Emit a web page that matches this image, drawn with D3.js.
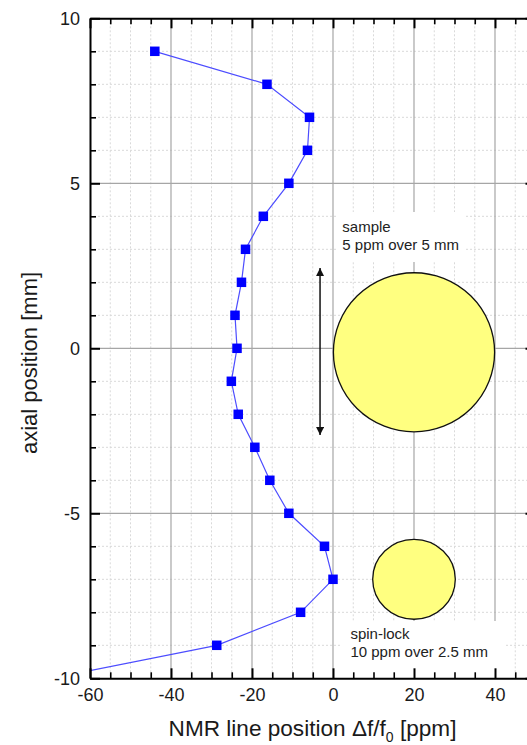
<!DOCTYPE html>
<html>
<head>
<meta charset="utf-8">
<script src="https://cdn.jsdelivr.net/npm/d3@7"></script>
<style>
  html, body { margin: 0; padding: 0; background: #fff; }
  svg { display: block; font-family: "Liberation Sans", Arial, sans-serif; }
</style>
</head>
<body>
<svg id="chart" width="527" height="745"></svg>
<script>
// Axial profile of the NMR line position
const axialPosition = [9, 8, 7, 6, 5, 4, 3, 2, 1, 0, -1, -2, -3, -4, -5, -6, -7, -8, -9, -10];
const linePosition  = [-44.0, -16.3, -5.8, -6.3, -10.9, -17.2, -21.6, -22.6, -24.2, -23.7,
                       -25.1, -23.4, -19.3, -15.6, -10.9, -2.1, 0.0, -8.0, -28.7, -69.5];

const xMajorTicks = [-60, -40, -20, 0, 20, 40];
const yMajorTicks = [-10, -5, 0, 5, 10];

// Illustrative sample / spin-lock volumes (centre in ppm, mm; radii in ppm, mm)
const volumes = [
  { name: "sample",    cx: 20, cy: -0.12, rx: 19.9, ry: 2.41 },
  { name: "spin-lock", cx: 20, cy: -7.0,  rx: 10.2, ry: 1.21 }
];
const sampleArrow = { x: -3.2, top: 2.43, bottom: -2.63 };
const notes = [
  { x: 2.3, y: 3.53, lines: ["sample", "5 ppm over 5 mm"] },
  { x: 4.3, y: -8.80, lines: ["spin-lock", "10 ppm over 2.5 mm"] }
];

const svg = d3.select("#chart");
const x = d3.scaleLinear().domain([-60, 50]).range([90, 535.5]);
const y = d3.scaleLinear().domain([-10, 10]).range([678.3, 18.3]);
const [x0, x1] = x.range();
const [yb, yt] = y.range();

svg.append("defs").append("clipPath").attr("id", "plotClip")
  .append("rect").attr("x", x0).attr("y", yt).attr("width", x1 - x0).attr("height", yb - yt);

// --- grid ---
const grid = svg.append("g");
const xMinor = d3.range(-55, 50, 5).filter(v => !xMajorTicks.includes(v));
const yMinor = d3.range(-9, 10, 1).filter(v => v % 5 !== 0);
grid.selectAll(".vmin").data(xMinor).join("line")
  .attr("x1", d => x(d)).attr("x2", d => x(d)).attr("y1", yt).attr("y2", yb)
  .attr("stroke", "#d9d9d9").attr("stroke-width", 1).attr("stroke-dasharray", "2,2");
grid.selectAll(".hmin").data(yMinor).join("line")
  .attr("x1", x0).attr("x2", x1).attr("y1", d => y(d)).attr("y2", d => y(d))
  .attr("stroke", "#d9d9d9").attr("stroke-width", 1).attr("stroke-dasharray", "2,2");
grid.selectAll(".vmaj").data(xMajorTicks.filter(v => v > -60)).join("line")
  .attr("x1", d => x(d)).attr("x2", d => x(d)).attr("y1", yt).attr("y2", yb)
  .attr("stroke", "#a6a6a6").attr("stroke-width", 1.2);
grid.selectAll(".hmaj").data(yMajorTicks.filter(v => v > -10 && v < 10)).join("line")
  .attr("x1", x0).attr("x2", x1).attr("y1", d => y(d)).attr("y2", d => y(d))
  .attr("stroke", "#a6a6a6").attr("stroke-width", 1.2);

// --- annotation backgrounds, volumes, arrow, text ---
const ann = svg.append("g");
ann.append("rect").attr("x", 336).attr("y", 212).attr("width", 130).attr("height", 50).attr("fill", "#fff");
ann.append("rect").attr("x", 342).attr("y", 621).attr("width", 163).attr("height", yb - 621).attr("fill", "#fff");

ann.selectAll("ellipse").data(volumes).join("ellipse")
  .attr("cx", d => x(d.cx)).attr("cy", d => y(d.cy))
  .attr("rx", d => x(d.cx + d.rx) - x(d.cx)).attr("ry", d => y(d.cy - d.ry) - y(d.cy))
  .attr("fill", "#ffff80").attr("stroke", "#111").attr("stroke-width", 1.3);

svg.select("defs").append("marker").attr("id", "head")
  .attr("viewBox", "0 0 10 10").attr("refX", 10).attr("refY", 5)
  .attr("markerWidth", 12).attr("markerHeight", 8).attr("markerUnits", "userSpaceOnUse")
  .attr("orient", "auto-start-reverse")
  .append("path").attr("d", "M0,0 L10,5 L0,10 Z").attr("fill", "#111");
ann.append("line")
  .attr("x1", x(sampleArrow.x)).attr("x2", x(sampleArrow.x))
  .attr("y1", y(sampleArrow.top)).attr("y2", y(sampleArrow.bottom))
  .attr("stroke", "#111").attr("stroke-width", 1.5)
  .attr("marker-start", "url(#head)").attr("marker-end", "url(#head)");

notes.forEach(n => {
  const t = ann.append("text").attr("x", x(n.x)).attr("y", y(n.y))
    .attr("font-size", 15).attr("fill", "#222");
  n.lines.forEach((s, i) => t.append("tspan").attr("x", x(n.x)).attr("dy", i ? 18.5 : 0).text(s));
});

// --- data ---
const pts = axialPosition.map((a, i) => ({ a, f: linePosition[i] }));
const dataG = svg.append("g").attr("clip-path", "url(#plotClip)");
dataG.append("path").datum(pts)
  .attr("d", d3.line().x(d => x(d.f)).y(d => y(d.a)))
  .attr("fill", "none").attr("stroke", "#4d4dff").attr("stroke-width", 1.2);
dataG.selectAll("rect").data(pts).join("rect")
  .attr("x", d => x(d.f) - 4.75).attr("y", d => y(d.a) - 4.75)
  .attr("width", 9.5).attr("height", 9.5).attr("fill", "#0000ff");

// --- axes (ticks pointing inward) ---
function styleAxis(g) {
  g.select(".domain").attr("stroke", "#000").attr("stroke-width", 2);
  g.selectAll(".tick line").attr("stroke", "#000").attr("stroke-width", 2);
  g.selectAll(".tick text").attr("fill", "#1a1a1a").attr("font-size", 18)
    .attr("font-family", "'Liberation Sans', Arial, sans-serif");
}
function minorAxis(g) {
  g.select(".domain").remove();
  g.selectAll(".tick line").attr("stroke", "#000").attr("stroke-width", 1.6);
  g.selectAll(".tick text").remove();
}
const fmt = d3.format("d");
const minus = v => fmt(v).replace("\u2212", "-");

svg.append("g").attr("transform", `translate(0,${yb})`)
  .call(d3.axisBottom(x).tickValues(xMinor).tickSize(-6).tickSizeOuter(0)).call(minorAxis);
svg.append("g").attr("transform", `translate(0,${yt})`)
  .call(d3.axisTop(x).tickValues(xMinor).tickSize(-6).tickSizeOuter(0)).call(minorAxis);
svg.append("g").attr("transform", `translate(${x0},0)`)
  .call(d3.axisLeft(y).tickValues(yMinor).tickSize(-6).tickSizeOuter(0)).call(minorAxis);
svg.append("g").attr("transform", `translate(${x1},0)`)
  .call(d3.axisRight(y).tickValues(yMinor).tickSize(-6).tickSizeOuter(0)).call(minorAxis);

svg.append("g").attr("transform", `translate(0,${yb})`)
  .call(d3.axisBottom(x).tickValues(xMajorTicks).tickSize(-10).tickSizeOuter(0).tickPadding(10).tickFormat(minus))
  .call(styleAxis);
svg.append("g").attr("transform", `translate(0,${yt})`)
  .call(d3.axisTop(x).tickValues(xMajorTicks).tickSize(-10).tickSizeOuter(0).tickFormat(""))
  .call(styleAxis);
svg.append("g").attr("transform", `translate(${x0},0)`)
  .call(d3.axisLeft(y).tickValues(yMajorTicks).tickSize(-10).tickSizeOuter(0).tickPadding(10).tickFormat(minus))
  .call(styleAxis);
svg.append("g").attr("transform", `translate(${x1},0)`)
  .call(d3.axisRight(y).tickValues(yMajorTicks).tickSize(-10).tickSizeOuter(0).tickFormat(""))
  .call(styleAxis);

// --- axis titles ---
svg.append("text")
  .attr("transform", "translate(37,363) rotate(-90)")
  .attr("text-anchor", "middle").attr("font-size", 22).attr("fill", "#1a1a1a")
  .text("axial position [mm]");

const xt = svg.append("text").attr("x", 312.5).attr("y", 735.5)
  .attr("text-anchor", "middle").attr("font-size", 22.6).attr("fill", "#1a1a1a");
xt.append("tspan").text("NMR line position \u0394f/f");
xt.append("tspan").attr("font-size", 14).attr("dy", 6).text("0");
xt.append("tspan").attr("dy", -6).text(" [ppm]");
</script>
</body>
</html>
